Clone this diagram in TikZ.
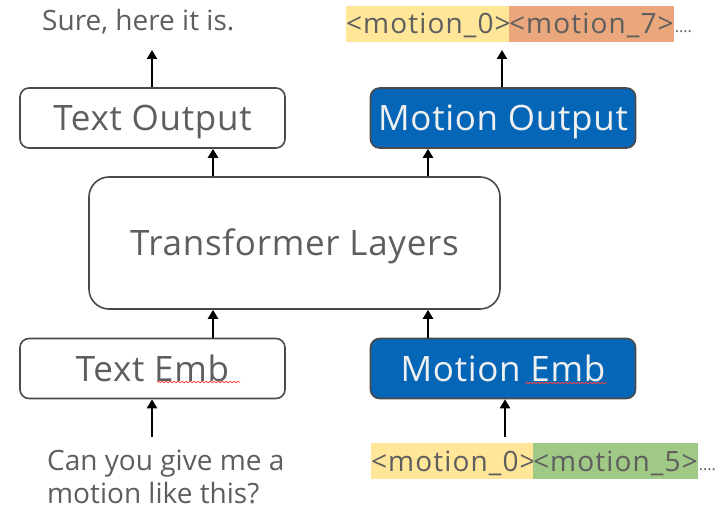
\documentclass[tikz,border=0pt]{standalone}
\usepackage{fontspec}
\setmainfont{Open Sans}
\newfontfamily\boxfont[LetterSpace=2]{Open Sans}
\newfontfamily\tokfont[LetterSpace=4]{Open Sans}
\usetikzlibrary{arrows.meta,decorations.pathmorphing}
\definecolor{txtgray}{HTML}{5E5E5E}
\definecolor{boxline}{HTML}{4A4A4A}
\definecolor{mblue}{HTML}{0566B8}
\definecolor{myellow}{HTML}{FFE699}
\definecolor{morange}{HTML}{EBA77C}
\definecolor{mgreen}{HTML}{A0C985}
\tikzset{
  plainbox/.style={draw=boxline, line width=1.6pt, rounded corners=9pt, fill=white,
    minimum width=265pt, minimum height=60pt, inner sep=0pt, text=txtgray,
    text height=25pt, text depth=0pt,
    font=\boxfont\fontsize{35}{40}\selectfont},
  bluebox/.style={plainbox, fill=mblue, text=white!94!black},
  bigbox/.style={plainbox, rounded corners=20pt, minimum width=411pt, minimum height=132pt},
  arr/.style={line width=2.8pt, -{Triangle[width=10pt,length=9pt]}},
  tok/.style={inner sep=0pt, outer sep=0pt, minimum height=36pt, text=txtgray, anchor=north west,
    text height=20pt, text depth=0pt, font=\tokfont\fontsize{28}{32}\selectfont},
  plaintext/.style={inner sep=0pt, text=txtgray, font=\fontsize{28}{33}\selectfont},
  dots/.style={inner sep=0pt, text=txtgray, font=\fontsize{16}{20}\selectfont, anchor=base west},
  squig/.style={draw=red!75!white, line width=0.8pt, decorate,
    decoration={snake, amplitude=0.6pt, segment length=4pt}}
}
\begin{document}
\begin{tikzpicture}[x=1pt,y=-1pt]
\useasboundingbox (0,0) rectangle (720,511);

% boxes
\node[plainbox] (tout) at (152.5,118) {Text Output};
\node[bluebox]  (mout) at (503,118) {Motion Output};
\node[bigbox]   (tf)   at (294.5,243) {Transformer Layers};
\node[plainbox] (temb) at (152.5,368.5) {Text Emb};
\node[bluebox]  (memb) at (503,368.5) {Motion Emb};

% texts
\node[plaintext, anchor=base west] (sure) at (42,31) {Sure, here it is.};
\node[plaintext, anchor=base west] (ask) at (47,470) {Can you give me a};
\node[plaintext, anchor=base west] (ask2) at (47,503) {motion like this?};

% tokens top
\node[tok, fill=myellow, minimum width=163pt] (t0) at (346,6) {<motion\_0>};
\node[tok, fill=morange, minimum width=160pt] (t7) at (509,6) {<motion\_7>};
\node[dots] (d1) at ([xshift=1pt,yshift=9pt]t7.south east) {....};
% tokens bottom
\node[tok, fill=myellow, minimum width=162pt] (b0) at (371,443) {<motion\_0>};
\node[tok, fill=mgreen, minimum width=161pt] (b5) at (533,443) {<motion\_5>};
\node[dots] (d2) at ([xshift=1pt,yshift=9pt]b5.south east) {....};

% spell-check marks
\draw[squig] (157,382) -- (240,382);
\draw[squig] (525,383) -- (607,383);

% arrow anchors
\coordinate (xa) at (152,0);
\coordinate (xb) at (213,0);
\coordinate (xc) at (428,0);
\coordinate (xd) at (502,0);
\coordinate (topout) at (152,50);
\coordinate (topmout) at (502,50);
\coordinate (askin) at (152,437);
\coordinate (tokin) at (505,437);

% arrows
\draw[arr] (tout.north -| xa) -- (topout);
\draw[arr] (mout.north -| xd) -- (topmout);
\draw[arr] (tf.north -| xb) -- (tout.south -| xb);
\draw[arr] (tf.north -| xc) -- (mout.south -| xc);
\draw[arr] (temb.north -| xb) -- (tf.south -| xb);
\draw[arr] (memb.north -| xc) -- (tf.south -| xc);
\draw[arr] (askin) -- (temb.south -| askin);
\draw[arr] (tokin) -- (memb.south -| tokin);
\end{tikzpicture}
\end{document}
